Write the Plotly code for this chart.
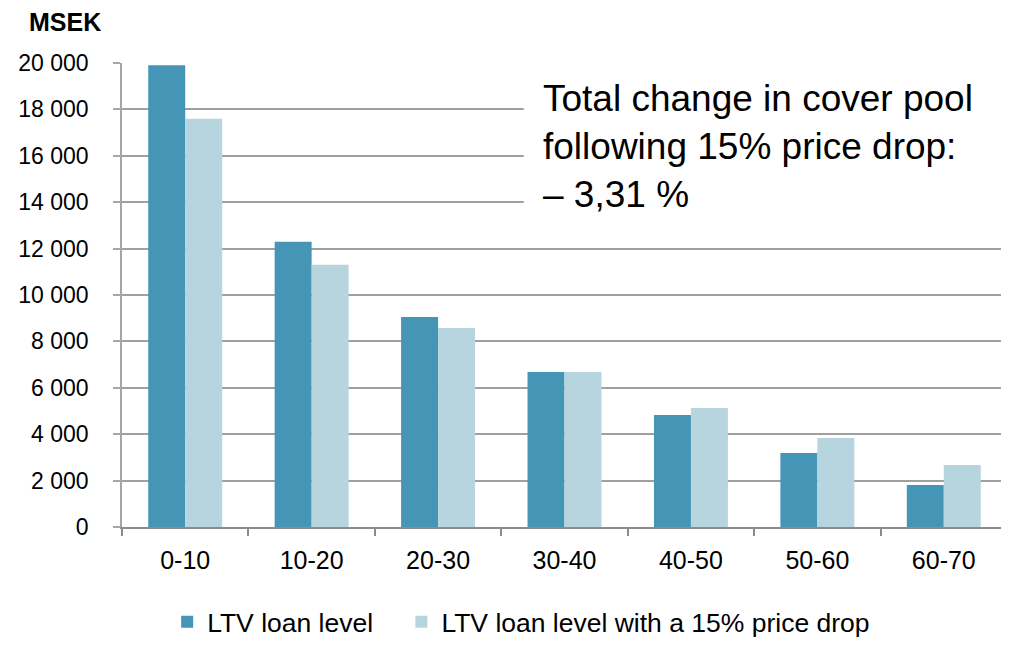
import plotly.graph_objects as go

categories = ["0-10", "10-20", "20-30", "30-40", "40-50", "50-60", "60-70"]
ltv_loan_level = [19900, 12300, 9050, 6680, 4830, 3190, 1810]
ltv_price_drop = [17600, 11300, 8580, 6680, 5130, 3840, 2670]
y_tick_vals = [0, 2000, 4000, 6000, 8000, 10000, 12000, 14000, 16000, 18000, 20000]
y_tick_text = ["0", "2 000", "4 000", "6 000", "8 000", "10 000", "12 000", "14 000", "16 000", "18 000", "20 000"]

FONT = "Liberation Sans, Arial, sans-serif"

fig = go.Figure()
fig.add_trace(go.Bar(
    x=categories, y=ltv_loan_level, name="LTV loan level",
    marker=dict(color="#4596b6", line=dict(width=0)), legend="legend",
))
fig.add_trace(go.Bar(
    x=categories, y=ltv_price_drop, name="LTV loan level with a 15% price drop",
    marker=dict(color="#b6d5de", line=dict(width=0)), legend="legend2",
))

legend_common = dict(
    orientation="h", xref="container", yref="container",
    xanchor="left", y=0.0, yanchor="bottom",
    font=dict(size=26.5), itemsizing="constant", itemwidth=30,
    bgcolor="rgba(0,0,0,0)", borderwidth=0,
)

# page body has an 8px margin; compensate so the figure lands at the same pixels
fig.update_layout(
    width=1001, height=638,
    margin=dict(l=114, r=2, t=55, b=119),
    paper_bgcolor="white", plot_bgcolor="white",
    barmode="group", bargap=0.415, bargroupgap=0,
    font=dict(family=FONT, size=23, color="black"),
    showlegend=True,
    legend=dict(x=0.159, **legend_common),
    legend2=dict(x=0.393, **legend_common),
    xaxis=dict(
        showline=True, linecolor="#8c8c8c", linewidth=1.5,
        ticks="outside", ticklen=7, tickcolor="#8c8c8c", tickwidth=1.5,
        tickson="boundaries", showgrid=False,
        tickfont=dict(size=25), ticklabelstandoff=10,
    ),
    yaxis=dict(
        range=[0, 20000], tickvals=y_tick_vals, ticktext=y_tick_text,
        showline=True, linecolor="#a6a6a6", linewidth=1.5,
        ticks="outside", ticklen=7, tickcolor="#a6a6a6", tickwidth=1.5,
        showgrid=True, gridcolor="#a0a0a0", gridwidth=1.5,
        zeroline=False, tickfont=dict(size=23), ticklabelstandoff=20,
    ),
    shapes=[
        dict(type="rect", xref="paper", yref="paper",
             x0=0.454, x1=1.0, y0=0.672, y1=0.974,
             fillcolor="white", line=dict(width=0), layer="above"),
    ],
    annotations=[
        dict(
            text="Total change in cover pool<br>following 15% price drop:<br>– 3,31 %",
            xref="paper", yref="paper", x=0.475, y=0.97,
            xanchor="left", yanchor="top", align="left", showarrow=False,
            font=dict(size=37, color="black"), borderpad=0,
        ),
        dict(
            text="<b>MSEK</b>", xref="paper", yref="paper",
            x=-0.107, y=1.054, xanchor="left", yanchor="bottom",
            showarrow=False, font=dict(size=25, color="black"),
        ),
    ],
)

fig.write_html("out.html")
